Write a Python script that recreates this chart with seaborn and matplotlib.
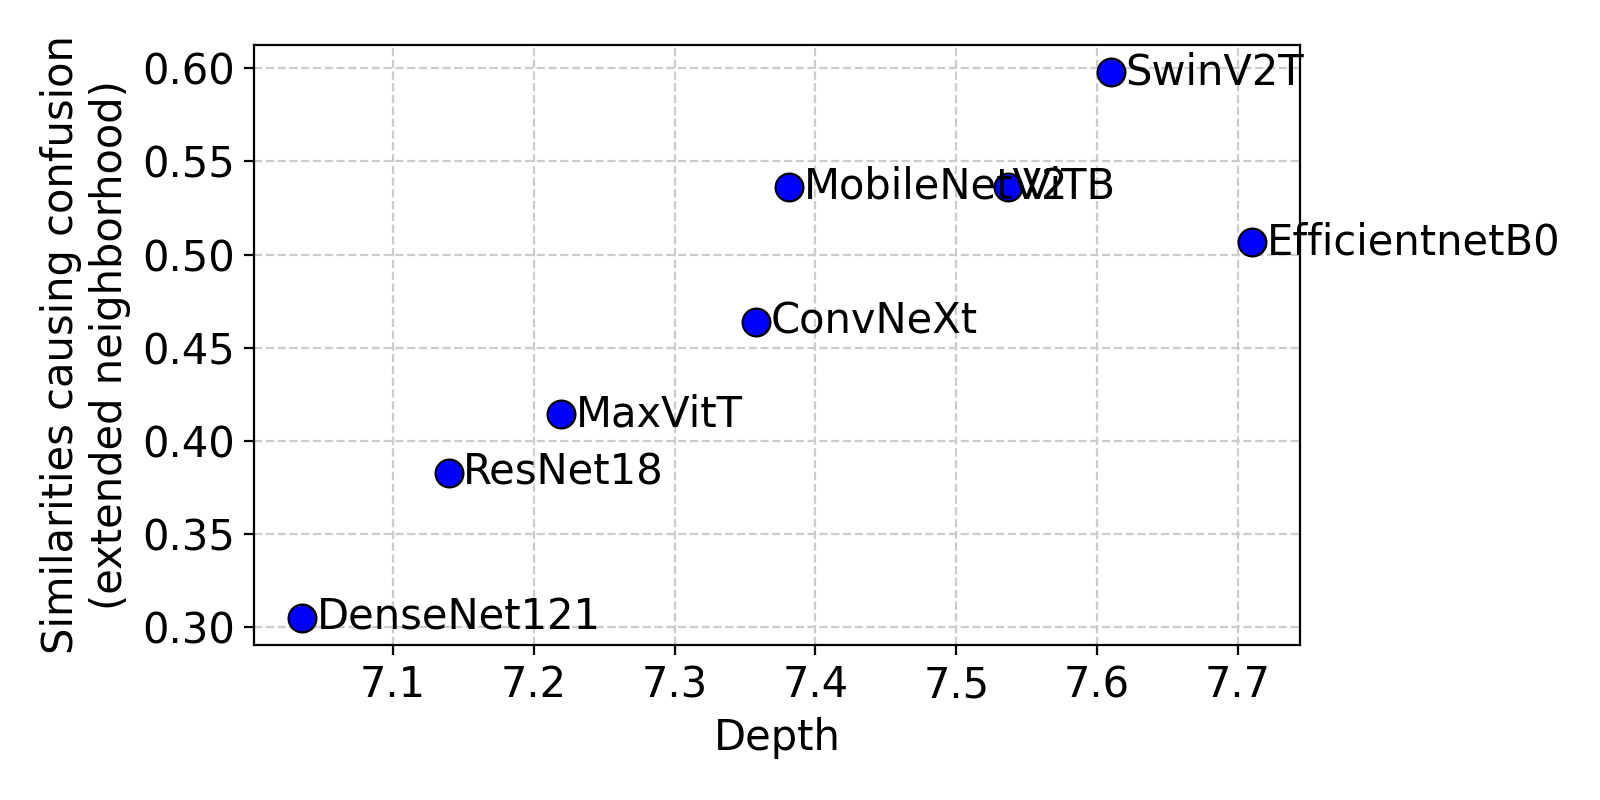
import matplotlib
matplotlib.use("Agg")
import matplotlib.pyplot as plt
import seaborn as sns
import pandas as pd

# values
models = ['DenseNet121', 'ResNet18', 'MaxVitT', 'ConvNeXt', 'MobileNetV2',
          'ViTB', 'SwinV2T', 'EfficientnetB0']
depth = [7.0355, 7.1396, 7.2195, 7.358, 7.3812, 7.537, 7.6097, 7.7103]
similarity = [0.3052, 0.383, 0.4144, 0.464, 0.5365, 0.5362, 0.598, 0.5067]

df = pd.DataFrame({'model': models, 'depth': depth, 'similarity': similarity})

fig, ax = plt.subplots(figsize=(8, 4), dpi=200)
fig.subplots_adjust(left=0.159, right=0.8125, top=0.944, bottom=0.194)

sns.scatterplot(data=df, x='depth', y='similarity', color='blue',
                edgecolor='black', linewidth=0.8, s=100, zorder=3, ax=ax)

for _, row in df.iterrows():
    ax.text(row['depth'] + 0.0105, row['similarity'], row['model'],
            fontsize=15, va='center', ha='left', zorder=4)

ax.grid(True, linestyle='--', color='#cccccc', linewidth=0.8)
ax.set_axisbelow(True)
ax.set_xlabel('Depth', fontsize=15)
ax.set_ylabel('Similarities causing confusion\n(extended neighborhood)', fontsize=15)
ax.tick_params(labelsize=15)
ax.set_yticks([0.30, 0.35, 0.40, 0.45, 0.50, 0.55, 0.60])
ax.set_xticks([7.1, 7.2, 7.3, 7.4, 7.5, 7.6, 7.7])

fig.savefig('out.png', dpi=200)
